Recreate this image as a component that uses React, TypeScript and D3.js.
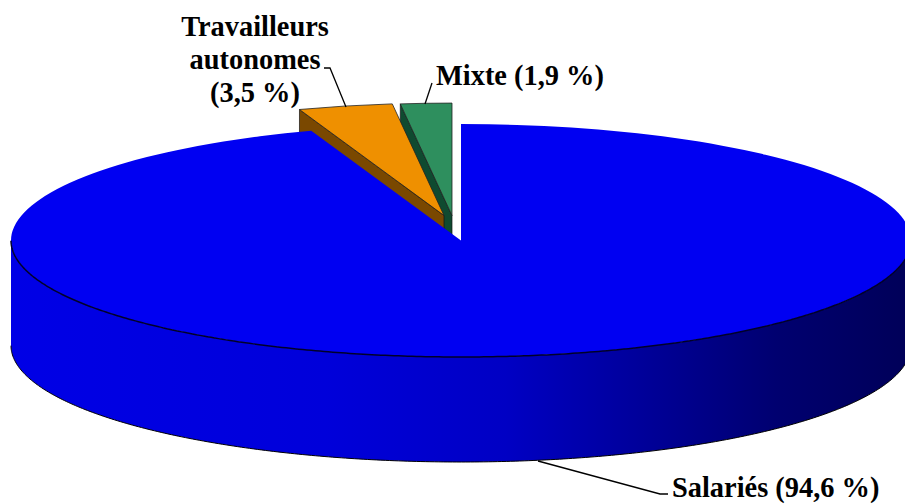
import React from "react";
import * as d3 from "d3";

const categories = ["Salariés", "Travailleurs autonomes", "Mixte"];
const shares = [94.6, 3.5, 1.9];
const topColors = ["#0000f2", "#ef9000", "#2e8f5e"];
const wallColors = ["#0000c0", "#7a4800", "#0f4a30"];
const explodeX = [0, -16, -8];
const explodeY = [0, -25, -25];
const radiusFactor = [1, 0.965, 0.965];
const gradientStops: [number, string][] = [
  [0, "#0000e6"],
  [0.35, "#0000da"],
  [0.55, "#0000c4"],
  [0.7, "#00009a"],
  [0.85, "#000070"],
  [1, "#000058"],
];

const W = 905, H = 504;
const cx = 461, apexX = 460, cy = 240.5, rx = 450, ry = 116.5, depth = 105;
const k = ry / rx;

const pie = d3.pie<number>().sort(null).startAngle(0).endAngle(2 * Math.PI);
const slices = pie(shares);
const arc = d3.arc<d3.PieArcDatum<number>>().innerRadius(0).outerRadius(rx);
const pt = (a: number): [number, number] => [rx * Math.sin(a), -ry * Math.cos(a)];
const line = d3.line();

function edgeWall(a: number, f: number) {
  const [x, y] = pt(a);
  return line([[0, 0], [x * f, y * f], [x * f, y * f + depth], [0, depth]]) + "Z";
}
const front = d3.range(Math.PI / 2 + 0.0, (3 * Math.PI) / 2 + 0.001, 0.01);
const wallTop = front.map((a) => pt(a));
const wallBottom = [...wallTop].reverse().map(([x, y]) => [x, y + depth] as [number, number]);
const wallPath = line([...wallTop, ...wallBottom]) + "Z";
const frontEdge = line(wallTop) || "";
const bottomEdge = line(wallBottom) || "";

const fontStyle: React.CSSProperties = {
  fontFamily: "'Liberation Serif', serif",
  fontWeight: 700,
  fontSize: 28.4,
};

function Sector({ i }: { i: number }) {
  const s = slices[i];
  const tx = i === 0 ? cx : apexX + explodeX[i];
  const ty = cy + explodeY[i];
  const f = radiusFactor[i];
  return (
    <g transform={`translate(${tx},${ty})`}>
      <path d={edgeWall(s.startAngle, f)} fill={wallColors[i]} stroke="#111" strokeWidth={0.7} />
      <g transform={`scale(${f},${k * f})`}>
        <path
          d={arc(s) || ""}
          fill={topColors[i]}
          stroke="#222"
          strokeWidth={0.8}
          style={{ vectorEffect: "non-scaling-stroke" }}
        />
      </g>
    </g>
  );
}

export default function App() {
  const b = slices[0];
  return (
    <svg width={W} height={H} style={{ position: "absolute", left: 0, top: 0, background: "#fff" }}>
      <defs>
        <linearGradient id="wall" gradientUnits="userSpaceOnUse" x1={-rx} x2={rx} y1={0} y2={0}>
          {gradientStops.map(([o, c]) => (
            <stop key={o} offset={o} stopColor={c} />
          ))}
        </linearGradient>
      </defs>
      <Sector i={2} />
      <Sector i={1} />
      <g transform={`translate(${cx},${cy})`}>
        <path d={wallPath} fill="url(#wall)" />
        <path d={bottomEdge} fill="none" stroke="#000" strokeWidth={1} />
        <g transform={`scale(1,${k})`}>
          <path d={arc(b) || ""} fill={topColors[0]} />
        </g>
        <path d={frontEdge} fill="none" stroke="#00002a" strokeWidth={1.5} />
      </g>
      <g fill="none" stroke="#000" strokeWidth={1.3}>
        <path d={line([[324, 68], [330, 68], [346, 107]]) || ""} />
        <path d={line([[432, 83], [425, 104]]) || ""} />
        <path d={line([[538, 461], [660, 494], [668, 494]]) || ""} />
      </g>
      <g style={fontStyle} fill="#000">
        <text x={255} y={36} textAnchor="middle">Travailleurs</text>
        <text x={255} y={69} textAnchor="middle">autonomes</text>
        <text x={255} y={102} textAnchor="middle">(3,5 %)</text>
        <text x={436} y={85}>{`Mixte (${String(shares[2]).replace(".", ",")} %)`}</text>
        <text x={672} y={497}>{`${categories[0]} (${String(shares[0]).replace(".", ",")} %)`}</text>
      </g>
    </svg>
  );
}
